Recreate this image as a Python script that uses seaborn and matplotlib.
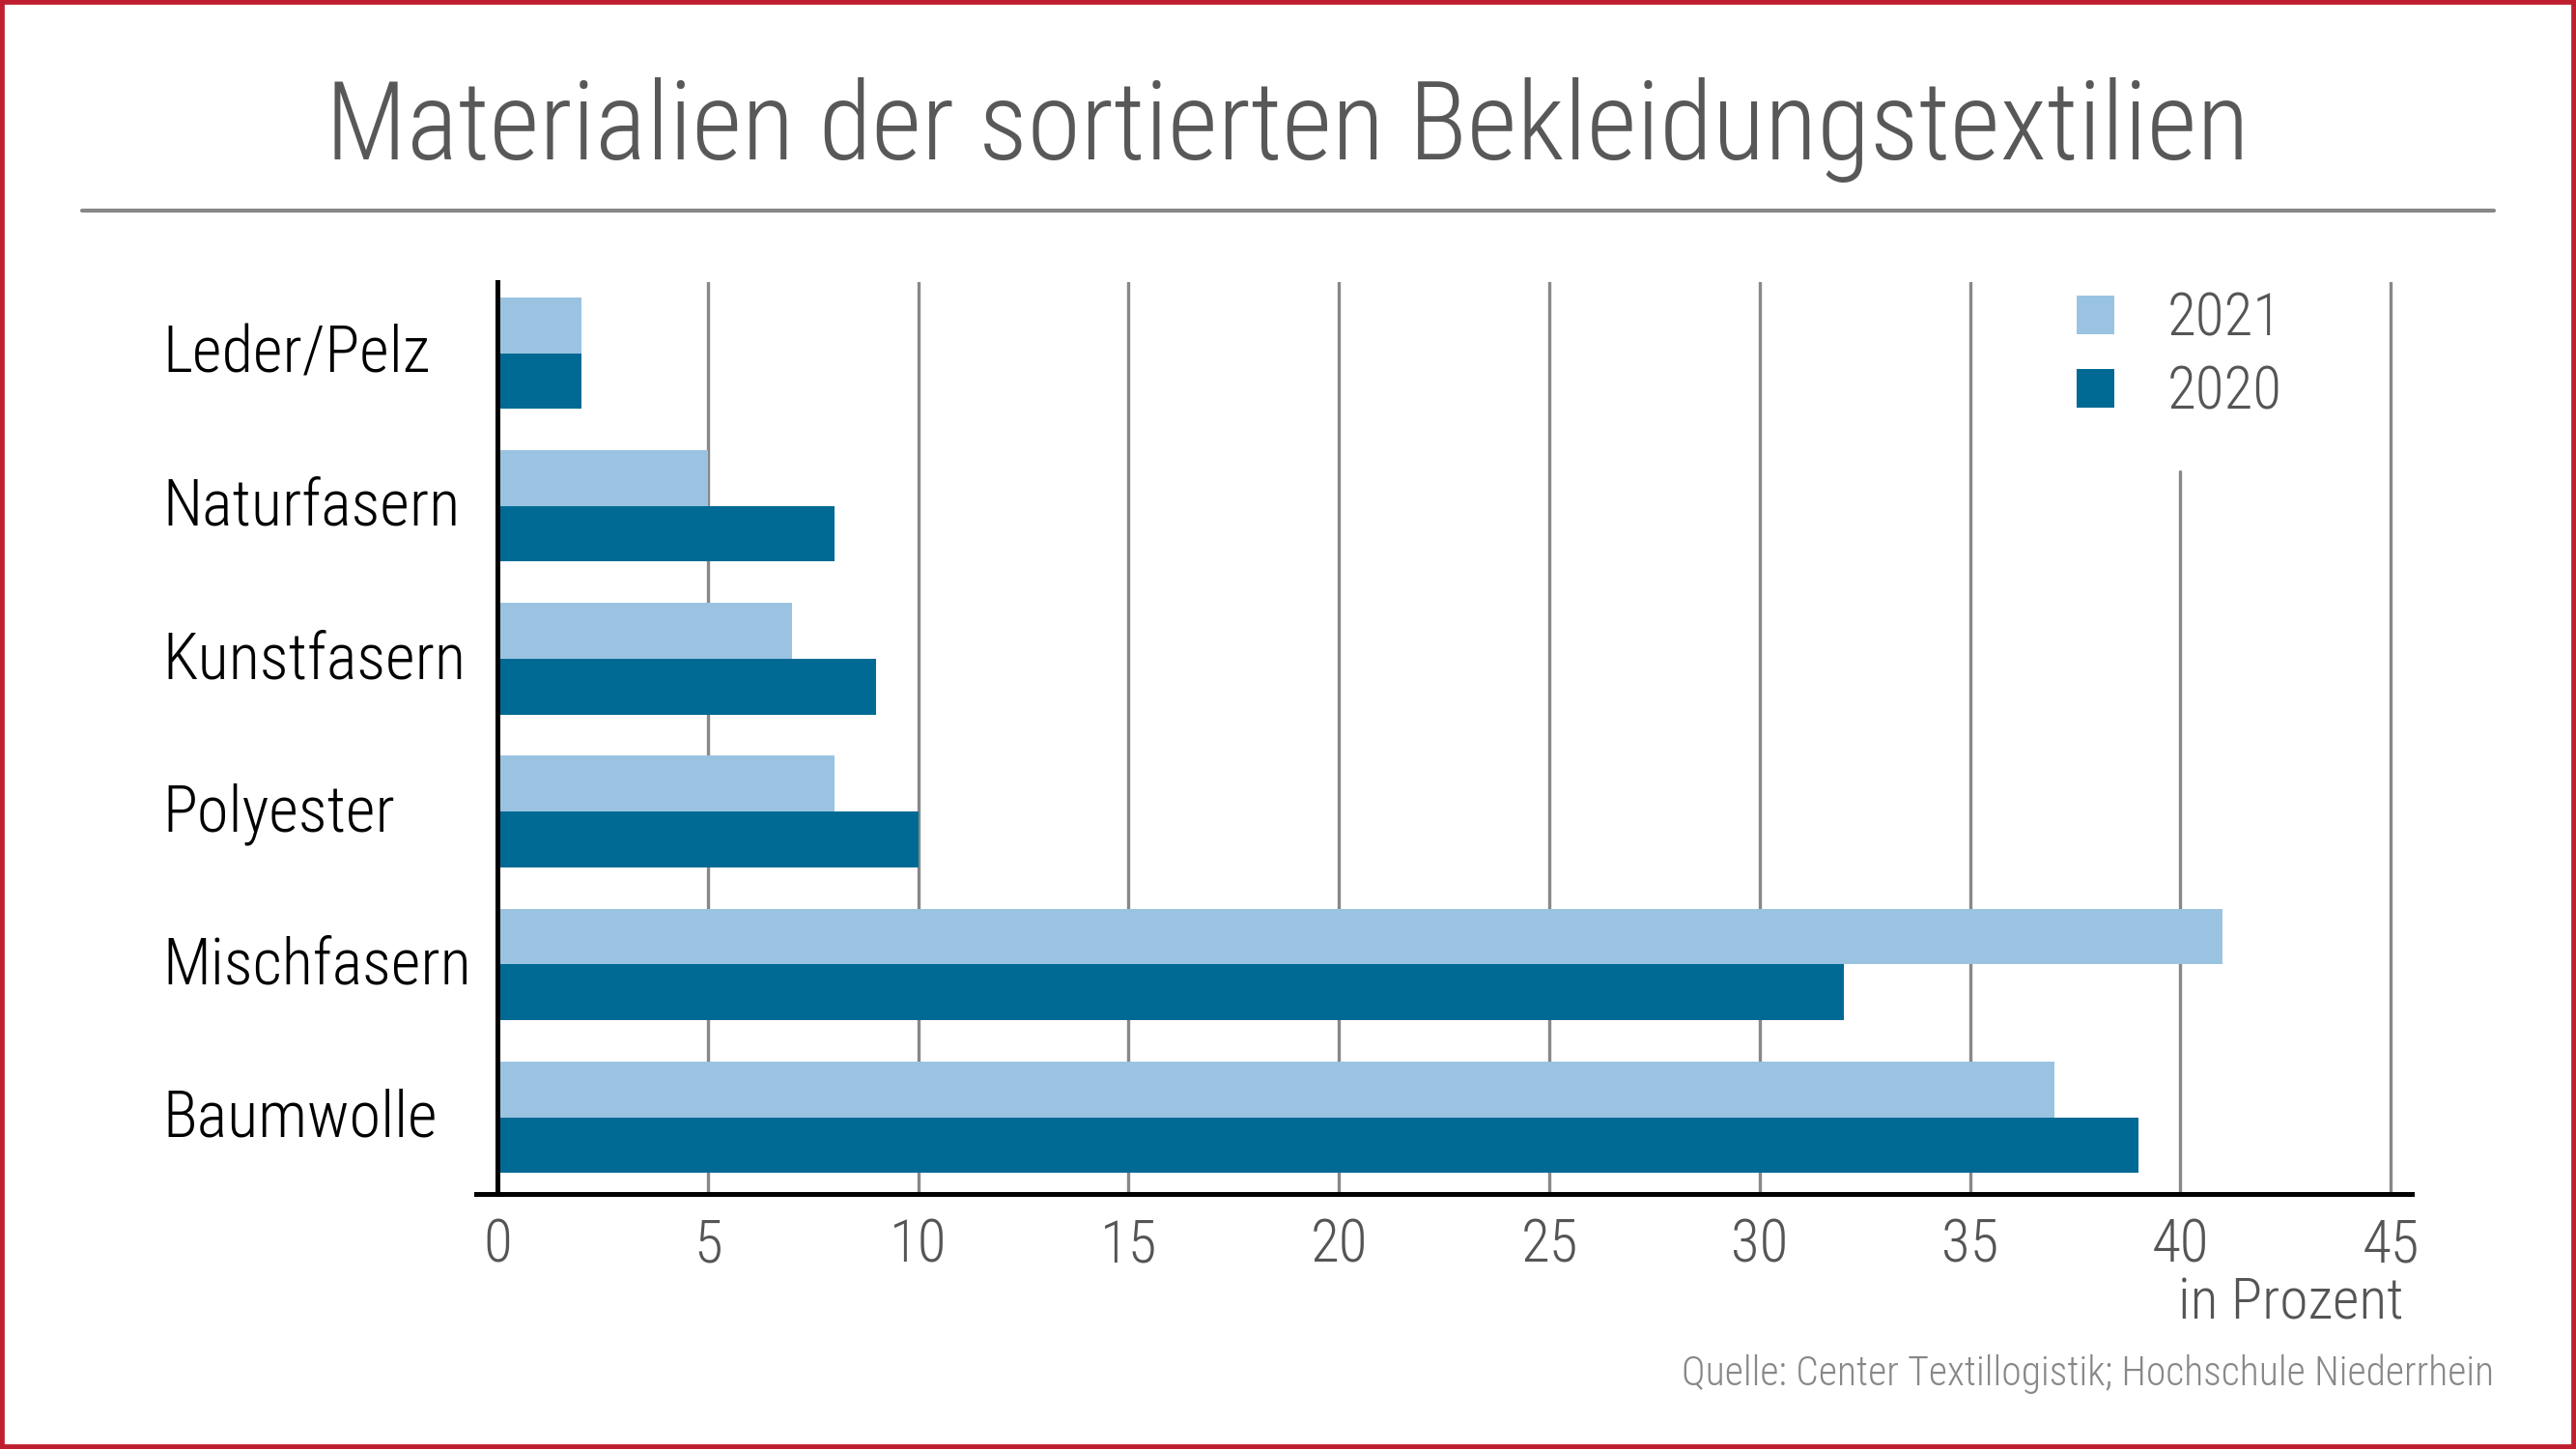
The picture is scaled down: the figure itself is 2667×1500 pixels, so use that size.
import pandas as pd
import matplotlib
matplotlib.use("Agg")
import matplotlib.pyplot as plt
import matplotlib.font_manager as fm
import matplotlib.transforms as mtransforms
from matplotlib.patches import Patch, Rectangle
import seaborn as sns

# data (percent)
materials = ["Leder/Pelz", "Naturfasern", "Kunstfasern", "Polyester", "Mischfasern", "Baumwolle"]
years = ["2021", "2020"]
share_2021 = [2, 5, 7, 8, 41, 37]
share_2020 = [2, 8, 9, 10, 32, 39]
x_ticks = [0, 5, 10, 15, 20, 25, 30, 35, 40, 45]

light_blue = "#9AC3E2"
dark_blue = "#006A94"
text_grey = "#555555"

sns.set_style("white")

# pick a narrow font if one is around, else Roboto
avail = {f.name for f in fm.fontManager.ttflist}
font = "Roboto"
for cand in ["Roboto Condensed", "Liberation Sans Narrow", "Roboto"]:
    if cand in avail:
        font = cand
        break
plt.rcParams["font.family"] = [font, "DejaVu Sans"]

df = pd.DataFrame({
    "Material": materials * 2,
    "Jahr": [years[0]] * len(materials) + [years[1]] * len(materials),
    "Anteil": share_2021 + share_2020,
})

fig = plt.figure(figsize=(26.67, 15), dpi=100)
fig.patch.set_facecolor("white")
ax = fig.add_axes([0.18495, 0.17574, 0.7513, 0.6293])

# grid lines, the one at 40 stops below the legend
for t in x_ticks[1:]:
    top = 0.793 if t == 40 else 1.0
    ax.axvline(t, ymin=0, ymax=top, color="#888888", lw=2.4, zorder=0)

sns.barplot(data=df, y="Material", x="Anteil", hue="Jahr", order=materials,
            hue_order=years, palette=[light_blue, dark_blue], orient="h",
            width=0.73, gap=0, saturation=1, linewidth=0, legend=False,
            ax=ax, zorder=2)

ax.set_xlim(-0.5, 45.5)
ax.set_ylim(5.505, -0.462)
ax.set_xlabel("")
ax.set_ylabel("")
ax.set_yticks([])
ax.set_xticks(x_ticks)
ax.set_xticklabels([str(t) for t in x_ticks], fontsize=44, color=text_grey,
                   fontweight="light")
ax.tick_params(axis="x", length=0, pad=17)

for side in ["top", "right"]:
    ax.spines[side].set_visible(False)
ax.spines["left"].set_position(("data", 0))
ax.spines["left"].set_color("black")
ax.spines["left"].set_linewidth(3.6)
ax.spines["bottom"].set_color("black")
ax.spines["bottom"].set_linewidth(3.6)
ax.set_facecolor("white")

# category labels, left aligned
trans = mtransforms.blended_transform_factory(fig.transFigure, ax.transData)
for i, name in enumerate(materials):
    ax.text(0.0631, i - 0.03, name, transform=trans, ha="left", va="center_baseline",
            fontsize=48, color="black", fontweight="light")

handles = [Patch(facecolor=light_blue, edgecolor="none", label=years[0]),
           Patch(facecolor=dark_blue, edgecolor="none", label=years[1])]
leg = ax.legend(handles=handles, loc="upper left", bbox_to_anchor=(0.806, 0.799),
                bbox_transform=fig.transFigure, frameon=False, fontsize=44,
                handlelength=0.64, handleheight=0.64, handletextpad=0.9,
                labelspacing=0.29, borderpad=0, borderaxespad=0)
for txt in leg.get_texts():
    txt.set_color(text_grey)
    txt.set_fontweight("light")

fig.text(0.4997, 0.890, "Materialien der sortierten Bekleidungstextilien",
         ha="center", va="baseline", fontsize=81, color="#585858", fontweight="light")
fig.add_artist(plt.Line2D([0.0319, 0.968], [0.8549, 0.8549], color="#888888",
                          lw=3, transform=fig.transFigure))
fig.text(0.933, 0.0896, "in Prozent", ha="right", va="baseline", fontsize=43,
         color=text_grey, fontweight="light")
fig.text(0.968, 0.0442, "Quelle: Center Textillogistik; Hochschule Niederrhein",
         ha="right", va="baseline", fontsize=30, color="#888888", fontweight="light")

fig.add_artist(Rectangle((0, 0), 1, 1, transform=fig.transFigure, fill=False,
                         edgecolor="#BE1E2D", lw=7))

fig.savefig("out.png", dpi=100, facecolor="white")
